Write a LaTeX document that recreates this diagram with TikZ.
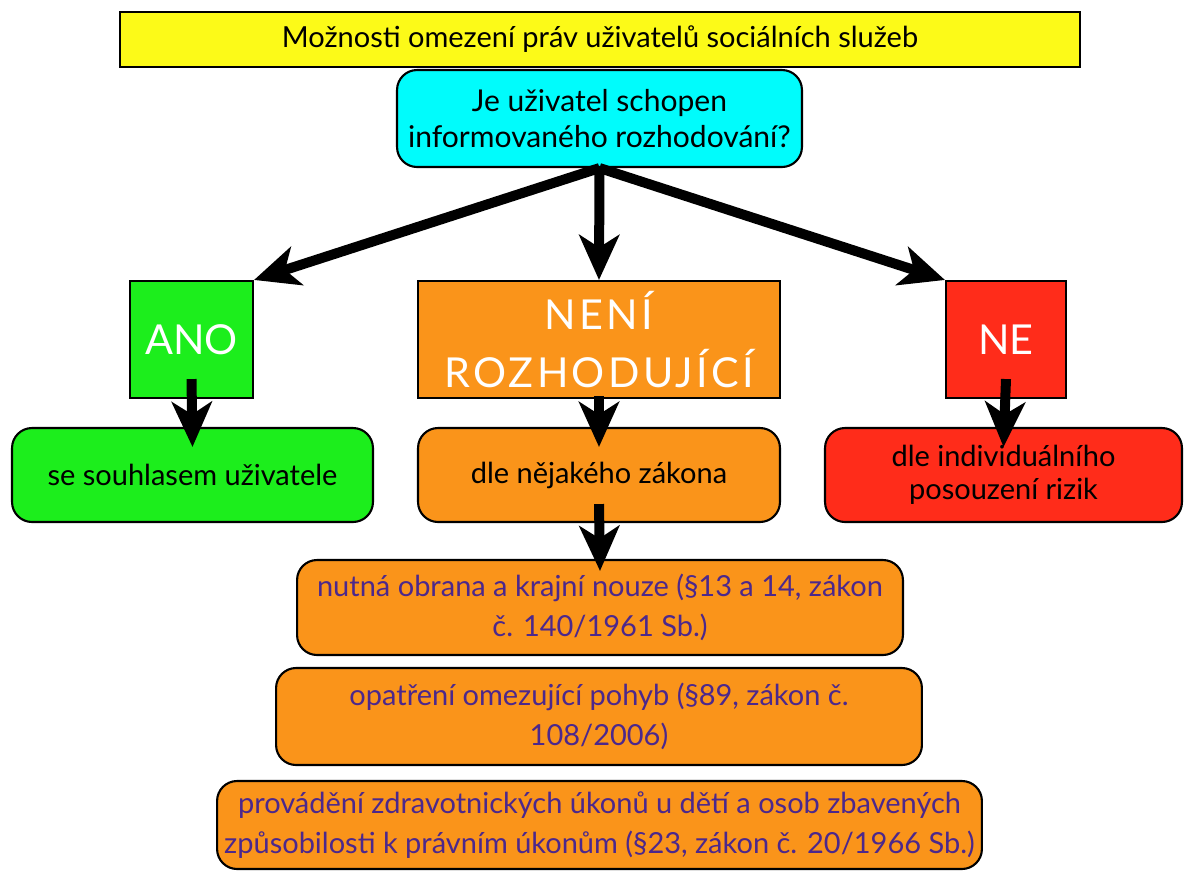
\documentclass[tikz,border=0pt]{standalone}
\usepackage{fontspec}
\setmainfont{Lato}
\usepackage{tikz}
\usetikzlibrary{arrows.meta}
\usepackage{xcolor}
\definecolor{titleyellow}{RGB}{252,250,24}
\definecolor{askcyan}{RGB}{0,252,252}
\definecolor{yesgreen}{RGB}{28,238,28}
\definecolor{maybeorange}{RGB}{250,148,26}
\definecolor{nored}{RGB}{255,44,26}
\definecolor{lawpurple}{RGB}{76,40,140}

\begin{document}
\begin{tikzpicture}[x=0.02cm, y=-0.02cm,
    box/.style={draw=black, line width=1.2pt, align=center, inner sep=0pt},
    rbox/.style={box, rounded corners=0.4cm},
    txt/.style={font=\fontsize{16.5}{19}\selectfont},
    bigtxt/.style={text=white, font=\fontsize{23.5}{33}\selectfont},
    lawbox/.style={rbox, fill=maybeorange, text=lawpurple, font=\fontsize{16.5}{22.7}\selectfont},
    arr/.style={line width=0.2cm, -{Stealth[length=0.9cm, width=0.8cm, inset=0.25cm]}}]
  \useasboundingbox (0,0) rectangle (1184,870);

  \node[box, txt, fill=titleyellow, minimum width=19.2cm, minimum height=1.1cm] (title) at (600,39.5)
    {Možnosti omezení práv uživatelů sociálních služeb};
  \node[rbox, fill=askcyan, minimum width=8.1cm, minimum height=1.94cm,
        font=\fontsize{17.1}{21}\selectfont] (ask) at (599.5,118.5)
    {Je uživatel schopen\\informovaného rozhodování?};

  \node[box, bigtxt, fill=yesgreen, minimum width=2.46cm, minimum height=2.34cm] (ano) at (191.5,339.5) {ANO};
  \node[box, bigtxt, fill=maybeorange, minimum width=7.24cm, minimum height=2.34cm,
        font=\fontsize{23.5}{33}\selectfont\addfontfeature{LetterSpace=8}] (neni) at (599,339.5)
    {NENÍ\\ROZHODUJÍCÍ};
  \node[box, bigtxt, fill=nored, minimum width=2.4cm, minimum height=2.34cm] (ne) at (1006,339.5) {NE};

  \node[rbox, txt, fill=yesgreen, minimum width=7.22cm, minimum height=1.88cm] (souhlas) at (192.5,475)
    {se souhlasem uživatele};
  \node[rbox, txt, fill=maybeorange, minimum width=7.24cm, minimum height=1.88cm] (zakon) at (599,475)
    {dle nějakého zákona};
  \node[rbox, txt, fill=nored, minimum width=7.14cm, minimum height=1.88cm] (riziko) at (1003.5,475)
    {dle individuálního\\posouzení rizik};

  \node[lawbox, minimum width=12.12cm, minimum height=1.9cm] (obrana) at (600,607.5)
    {nutná obrana a krajní nouze (§13 a 14, zákon\\č. 140/1961 Sb.)};
  \node[lawbox, minimum width=12.92cm, minimum height=1.94cm] (pohyb) at (599,716.5)
    {opatření omezující pohyb (§89, zákon č.\\108/2006)};
  \node[lawbox, minimum width=15.3cm, minimum height=1.76cm] (ukony) at (599.5,825)
    {provádění zdravotnických úkonů u dětí a osob zbavených\\způsobilosti k právním úkonům (§23, zákon č. 20/1966 Sb.)};

  \draw[arr] (ask.south) -- (ano.north east);
  \draw[arr] (ask.south) -- (neni.north);
  \draw[arr] (ask.south) -- (ne.north west);
  \draw[arr] ([yshift=0.4cm]ano.south) -- ([yshift=-0.4cm]souhlas.north);
  \draw[arr] ([yshift=0.06cm]neni.south) -- ([yshift=-0.4cm]zakon.north);
  \draw[arr] ([yshift=0.4cm]ne.south) -- ([yshift=-0.4cm]riziko.north);
  \draw[arr] ([yshift=0.38cm]zakon.south) -- ([yshift=-0.24cm]obrana.north);
\end{tikzpicture}
\end{document}
